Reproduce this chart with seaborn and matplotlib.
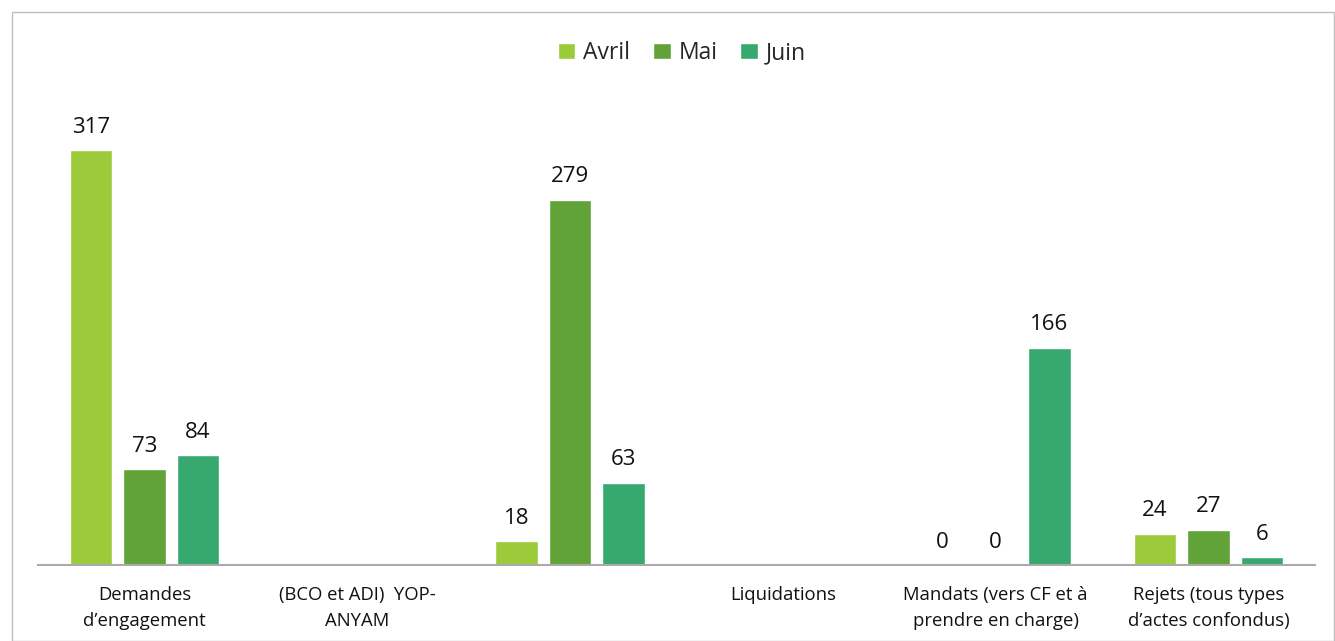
import numpy as np
import pandas as pd
import matplotlib
matplotlib.use("Agg")
import matplotlib.pyplot as plt
from matplotlib.patches import Rectangle
import seaborn as sns

# Donnees
categories = ["Demandes\nd\u2019engagement", "(BCO et ADI)  YOP-\nANYAM", " ",
              "Liquidations", "Mandats (vers CF et \u00e0\nprendre en charge)",
              "Rejets (tous types\nd\u2019actes confondus)"]
mois = ["Avril", "Mai", "Juin"]
avril = [317, np.nan, 18, np.nan, 0, 24]
mai = [73, np.nan, 279, np.nan, 0, 27]
juin = [84, np.nan, 63, np.nan, 166, 6]
couleurs = ["#9BCB3B", "#62A339", "#37A86F"]

rows = []
for m, vals in zip(mois, [avril, mai, juin]):
    for c, v in zip(categories, vals):
        rows.append({"cat": c, "mois": m, "val": v})
df = pd.DataFrame(rows).dropna()

sns.set_theme(style="white")
plt.rcParams['font.family'] = ['Open Sans', 'DejaVu Sans']

fig = plt.figure(figsize=(13.35, 6.41), dpi=100)
ax = fig.add_axes([38/1335, 1 - 565/641, (1315 - 38)/1335, (565 - 100)/641])

sns.barplot(data=df, x="cat", y="val", hue="mois", order=categories,
            hue_order=mois, palette=couleurs, width=0.754, gap=0.2,
            saturation=1, ax=ax)

for cont in ax.containers:
    ax.bar_label(cont, fmt="%d", padding=9, fontsize=16, color="#111111")

ax.set_ylim(0, 355.2)
ax.set_xlim(-0.5, len(categories) - 0.5)
ax.set_xlabel("")
ax.set_ylabel("")
ax.set_yticks([])
for s in ["top", "right", "left"]:
    ax.spines[s].set_visible(False)
ax.spines["bottom"].set_color("#ABABAB")
ax.spines["bottom"].set_linewidth(1.5)
ax.tick_params(axis="x", length=0, pad=15, labelsize=13.3, colors="#111111")
for t in ax.get_xticklabels():
    t.set_linespacing(1.6)

handles, labels = ax.get_legend_handles_labels()
ax.legend_.remove()
fig.legend(handles, labels, loc="center", bbox_to_anchor=(682/1335, 1 - 53/641),
           ncol=3, frameon=False, fontsize=16.5, handlelength=0.75,
           handleheight=0.75, handletextpad=0.35, columnspacing=1.0)

fig.patches.append(Rectangle((12/1335, 0), (1334 - 12)/1335, 1 - 12/641,
                             transform=fig.transFigure, fill=False,
                             edgecolor="#BFBFBF", linewidth=1))

fig.savefig("out.png", dpi=100)
